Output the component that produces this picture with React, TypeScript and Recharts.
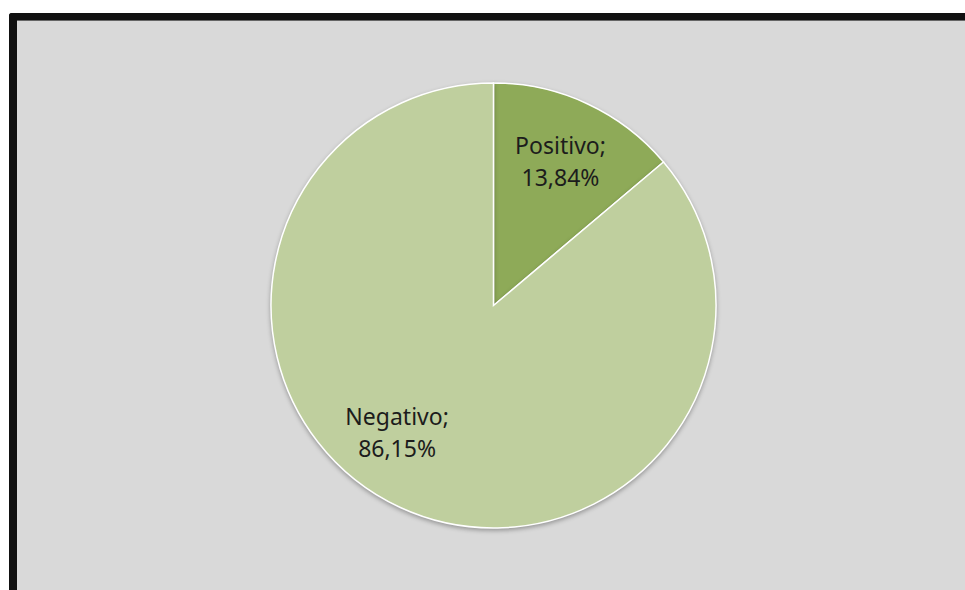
import { Cell, Pie, PieChart } from "recharts"

// Survey result shares (percent)
const categories = ["Positivo", "Negativo"]
const shares = [13.84, 86.15]
const shareLabels = ["13,84%", "86,15%"]
const sliceColors = ["#8eaa58", "#bfcf9e"]

const data = categories.map((name, i) => ({
  name,
  value: shares[i],
  label: shareLabels[i],
}))

const RADIAN = Math.PI / 180

// Excel "best fit" put the big slice's label lower-left instead of at its mid angle
const labelAngleOverride: Record<string, number> = { Negativo: 232.7 }

const SliceLabel = (props: any) => {
  const { cx, cy, midAngle, outerRadius, index } = props
  const entry = data[index]
  const angle = labelAngleOverride[entry.name] ?? midAngle
  const r = outerRadius * 0.715
  const x = cx + r * Math.cos(-angle * RADIAN)
  const y = cy + r * Math.sin(-angle * RADIAN)
  return (
    <text
      x={x}
      y={y - 16}
      textAnchor="middle"
      fill="#1c1c1c"
      fontFamily="'Noto Sans', sans-serif"
      fontSize={23}
    >
      <tspan x={x} dominantBaseline="central">{entry.name};</tspan>
      <tspan x={x} dy={32} dominantBaseline="central">{entry.label}</tspan>
    </text>
  )
}

export default function App() {
  return (
    <div style={{ position: "fixed", left: 0, top: 0, width: 965, height: 590, background: "#fff", overflow: "hidden" }}>
      <style>{`.recharts-pie-sector path { filter: drop-shadow(0 2px 2px rgba(0,0,0,0.3)); }`}</style>
      {/* frame */}
      <div
        style={{
          position: "absolute",
          left: 9,
          top: 13,
          width: 980,
          height: 600,
          background: "#d9d9d9",
          borderLeft: "8px solid #111",
          borderTop: "7px solid #111",
          borderTopLeftRadius: 3,
          boxShadow: "inset 0 1px 0 #666",
        }}
      />
      <div style={{ position: "absolute", left: 0, top: 0 }}>
        <PieChart width={965} height={590} margin={{ top: 0, right: 0, bottom: 0, left: 0 }}>
          <Pie
            data={data}
            dataKey="value"
            nameKey="name"
            cx={493.5}
            cy={305.5}
            outerRadius={222.5}
            startAngle={90}
            endAngle={-270}
            stroke="#ffffff"
            strokeWidth={1.5}
            label={SliceLabel}
            labelLine={false}
            isAnimationActive={false}
          >
            {data.map((entry, index) => (
              <Cell key={`cell-${entry.name}`} fill={sliceColors[index]} />
            ))}
          </Pie>
        </PieChart>
      </div>
    </div>
  )
}
